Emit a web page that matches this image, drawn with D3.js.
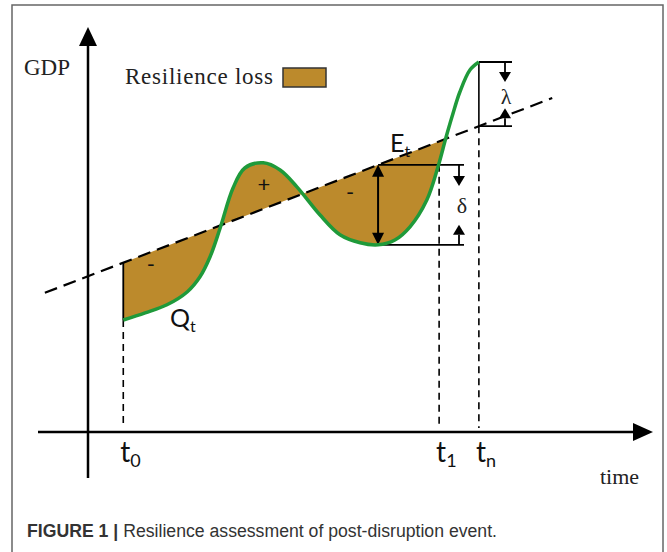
<!DOCTYPE html>
<html><head><meta charset="utf-8">
<script src="https://cdn.jsdelivr.net/npm/d3@7"></script>
<style>html,body{margin:0;padding:0;background:#fff;}svg{display:block;}</style>
</head><body>
<svg id="c" width="667" height="552"></svg>
<script>
// ---- data ----
const curveTime = [6.3,10.2,14.1,17.7,20,21.8,23.6,25.9,28,31.3,34.3,37.3,41.4,45,48.6,51.8,54.8,57.5,60.5,62.5,63.9,65,66.4,68.2,69.8];
const curveGDP  = [28,29.8,31.8,35,38.8,43.8,51,61,66,67.3,65.5,61.3,54.3,49.3,47.3,46.8,48,51.3,58,66.3,73.5,78.8,85,90.5,92.5];
const expectedTime = [-7.7, 82.9];
const expectedGDP  = [34.8, 83.5];
const tickNames = ["t0","t1","tn"];
const tickSubs  = ["0","1","n"];
const tickTimes = [6.3, 62.7, 69.8];
const troughTime = 51.8;
const crossTime = 63.9;
const signLabels = ["-","+","-"];
const signTimes = [11.2, 31.4, 46.8];
const signGDP   = [40, 60, 58];

const svg = d3.select("#c");
const x = d3.scaleLinear().domain([0,100]).range([88,648]);
const y = d3.scaleLinear().domain([0,100]).range([432,32]);
const E = t => expectedGDP[0] + (t-expectedTime[0])*(expectedGDP[1]-expectedGDP[0])/(expectedTime[1]-expectedTime[0]);
const curvePts = curveTime.map((t,i)=>[t,curveGDP[i]]);
const qmax = d3.max(curveGDP), qmin = d3.min(curveGDP.slice(8,18));

const fillCol = "#BC8A2C", green = "#1F9A3A";

// frame
svg.append("rect").attr("x",12).attr("y",5).attr("width",651).attr("height",560)
  .attr("fill","none").attr("stroke","#666").attr("stroke-width",1.5);

const defs = svg.append("defs");
defs.append("clipPath").attr("id","clipL").append("rect")
  .attr("x",0).attr("y",0).attr("width",x(crossTime)).attr("height",552);

// fill area
const lineGen = d3.line().x(d=>x(d[0])).y(d=>y(d[1])).curve(d3.curveCatmullRom.alpha(0.5));
const fillPath = lineGen(curvePts) + "L" + x(curveTime[curveTime.length-1]) + "," + y(E(curveTime[curveTime.length-1]))
  + "L" + x(curveTime[0]) + "," + y(E(curveTime[0])) + "Z";
svg.append("path").attr("d",fillPath).attr("fill",fillCol).attr("clip-path","url(#clipL)");

// arrow helper
function head(px,py,dir,w,l){
  let p;
  if(dir==="up") p=[[px,py],[px-w,py+l],[px+w,py+l]];
  else if(dir==="down") p=[[px,py],[px-w,py-l],[px+w,py-l]];
  else p=[[px,py],[px-l,py-w],[px-l,py+w]];
  svg.append("path").attr("d","M"+p.map(q=>q.join(",")).join("L")+"Z").attr("fill","#000");
}
function seg(x1,y1,x2,y2,w,dash){
  const s = svg.append("line").attr("x1",x1).attr("y1",y1).attr("x2",x2).attr("y2",y2)
    .attr("stroke","#000").attr("stroke-width",w||1.5);
  if(dash) s.attr("stroke-dasharray",dash);
  return s;
}

// axes
seg(x(0), 478, x(0), 44, 2.5);
head(x(0), 27, "up", 9, 19);
seg(38, y(0), 636, y(0), 2.5);
head(653, y(0), "right", 9, 20);

// expected line (dashed)
seg(x(expectedTime[0]), y(expectedGDP[0]), x(expectedTime[1]), y(expectedGDP[1]), 2.2, "13,7");

// vertical t lines
const t0=tickTimes[0], t1=tickTimes[1], tn=tickTimes[2];
seg(x(t0), y(E(t0)), x(t0), y(curveGDP[0]), 1.8);
seg(x(t0), y(curveGDP[0]), x(t0), 428, 1.6, "7,5");
seg(x(t1), y(E(troughTime)), x(t1), 428, 1.6, "7,5");
seg(x(tn), y(qmax), x(tn), y(E(tn)), 1.6);
seg(x(tn), y(E(tn)), x(tn), 428, 1.6, "7,5");

// delta annotation
const dTop = y(E(troughTime)), dBot = y(qmin);
seg(x(troughTime), dTop, 464, dTop, 1.8);
seg(x(troughTime), dBot, 464, dBot, 1.8);
seg(x(troughTime), dTop+10, x(troughTime), dBot-10, 2);
head(x(troughTime), dTop, "up", 6, 12);
head(x(troughTime), dBot, "down", 6, 12);
seg(459, dTop, 459, 176, 1.8); head(459, 186, "down", 6, 10);
seg(459, dBot, 459, dBot-10, 1.8); head(459, dBot-20, "up", 6, 10);

// lambda annotation
const lTop = y(qmax), lBot = y(E(tn));
seg(x(tn), lTop, 512, lTop, 1.8);
seg(x(tn), lBot, 512, lBot, 1.8);
seg(505, lTop, 505, lTop+10, 1.8); head(505, lTop+20, "down", 6, 10);
seg(505, lBot, 505, lBot-8, 1.8); head(505, lBot-18, "up", 6, 10);

// curve
svg.append("path").attr("d",lineGen(curvePts)).attr("fill","none").attr("stroke",green).attr("stroke-width",3.5);

// texts
const serif = "'Liberation Serif','Times New Roman',serif";
const sans = "Lato,'Open Sans',sans-serif";
svg.append("text").attr("x",24).attr("y",75).attr("font-family",serif).attr("font-size",23).attr("fill","#222").text("GDP");
svg.append("text").attr("x",125).attr("y",84).attr("font-family",serif).attr("font-size",23).attr("fill","#222")
  .attr("textLength",148).attr("lengthAdjust","spacing").text("Resilience loss");
svg.append("rect").attr("x",283).attr("y",68).attr("width",43).attr("height",19).attr("fill",fillCol).attr("stroke","#333").attr("stroke-width",1.5);

function sub(tx,ty,main,s,fs,ss){
  const t = svg.append("text").attr("x",tx).attr("y",ty).attr("font-family",sans).attr("fill","#111").attr("font-size",fs);
  t.append("tspan").text(main);
  t.append("tspan").attr("font-size",ss).attr("dy",ss*0.3).text(s);
}
sub(390,152,"E","t",25,16);
sub(170,327,"Q","t",25,16);
tickNames.forEach((n,i)=>{
  sub(x(tickTimes[i])-3, 462, n[0], tickSubs[i], 28, 18);
});
svg.selectAll(".sign").data(signLabels).join("text")
  .attr("x",(d,i)=>x(signTimes[i])).attr("y",(d,i)=>y(signGDP[i]))
  .attr("text-anchor","middle").attr("font-family",sans).attr("font-size",22).attr("fill","#111").text(d=>d);
svg.append("text").attr("x",462).attr("y",213).attr("text-anchor","middle").attr("font-family",serif).attr("font-size",22).attr("fill","#222").text("δ");
svg.append("text").attr("x",506).attr("y",104).attr("text-anchor","middle").attr("font-family",serif).attr("font-size",22).attr("fill","#222").text("λ");
svg.append("text").attr("x",600).attr("y",484).attr("font-family",serif).attr("font-size",22).attr("fill","#222").text("time");

const cap = svg.append("text").attr("x",27).attr("y",537).attr("font-family","'Liberation Sans',Arial,sans-serif").attr("font-size",18).attr("fill","#333")
  .attr("textLength",470).attr("lengthAdjust","spacingAndGlyphs");
cap.append("tspan").attr("font-weight","bold").text("FIGURE 1 | ");
cap.append("tspan").text("Resilience assessment of post-disruption event.");
</script>
</body></html>
